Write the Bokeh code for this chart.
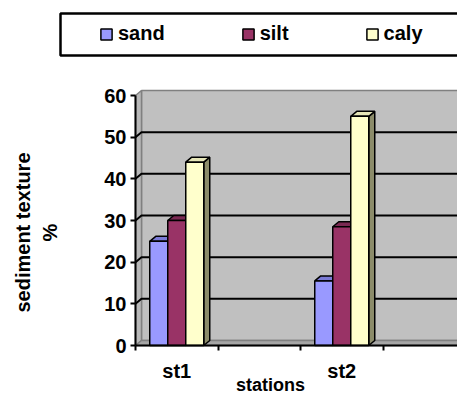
import math
from bokeh.plotting import figure
from bokeh.models import Range1d, FixedTicker, Label, Legend, LegendItem, BoxAnnotation
from bokeh.embed import file_html
from bokeh.resources import INLINE

# ---- data ----
axis_slots = ["st1", "", "st2", ""]          # category slots on the axis
categories = ["st1", "st2"]
series_names = ["sand", "silt", "caly"]
sand = [25, 15.5]
silt = [30, 28.5]
caly = [44, 55]
y_ticks = [0, 10, 20, 30, 40, 50, 60]

series_values = [sand, silt, caly]
front_colors = ["#9999FF", "#993366", "#FFFFCC"]
top_colors = ["#7B7BD6", "#7A2952", "#E6E6B8"]
side_colors = ["#6B6BB3", "#66223F", "#8C8C6A"]

# ---- geometry (style) ----
W, H = 457, 396
AX_X, AX_Y = 135, 345         # pixel position of the axes' origin on the canvas
PX_PER_SLOT = 82.5
PX_PER_UNIT = 250 / 60.0
DX = 6 / PX_PER_SLOT          # depth offset in x (slot units)
DY = 5 / PX_PER_UNIT          # depth offset in y (value units)
BAR_W = 18 / PX_PER_SLOT
FONT = "Liberation Sans"


def sx(px):
    return (px - AX_X) / PX_PER_SLOT


def sy(py):
    return (AX_Y - py) / PX_PER_UNIT


x_end = sx(W)
ymax = y_ticks[-1]

p = figure(width=W, height=H, x_range=Range1d(sx(0), x_end), y_range=Range1d(sy(H), sy(0)),
           output_backend="svg", toolbar_location=None,
           min_border_left=0, min_border_right=0, min_border_top=0, min_border_bottom=0)
p.outline_line_color = None
p.grid.visible = False
p.background_fill_color = "white"
p.border_fill_color = "white"

# ---- 3D walls ----
far = x_end + 1
p.quad(left=[DX], right=[far], bottom=[DY], top=[ymax + DY],
       fill_color="#C0C0C0", line_color="#808080", line_width=1.5)
p.patch([0, DX, DX, 0], [0, DY, ymax + DY, ymax],
        fill_color="#B8B8B8", line_color="#808080", line_width=1.5)
p.patch([0, far, far + DX, DX], [0, 0, DY, DY],
        fill_color="#A6A6A6", line_color="#808080", line_width=1.5)

grid_vals = [v for v in y_ticks if 0 < v < ymax]
p.multi_line([[0, DX, far] for v in grid_vals],
             [[v, v + DY, v + DY] for v in grid_vals],
             line_color="black", line_width=2)

# ---- 3D bars ----
cat_pos = [axis_slots.index(c) + 0.5 for c in categories]
legend_items = []
for si, (name, vals) in enumerate(zip(series_names, series_values)):
    lefts = [c - 1.5 * BAR_W + si * BAR_W for c in cat_pos]
    rights = [l + BAR_W for l in lefts]
    side_xs = [[r, r + DX, r + DX, r] for r in rights]
    side_ys = [[0, DY, v + DY, v] for v in vals]
    p.patches(side_xs, side_ys, fill_color=side_colors[si], line_color="black", line_width=1.5)
    top_xs = [[l, r, r + DX, l + DX] for l, r in zip(lefts, rights)]
    top_ys = [[v, v, v + DY, v + DY] for v in vals]
    p.patches(top_xs, top_ys, fill_color=top_colors[si], line_color="black", line_width=1.5)
    r_front = p.quad(left=lefts, right=rights, bottom=[0] * len(vals), top=vals,
                     fill_color=front_colors[si], line_color="black", line_width=1.5)
    legend_items.append(LegendItem(label=name, renderers=[r_front]))

# ---- axes (drawn at the data origin) ----
ya = p.yaxis[0]
ya.fixed_location = 0
ya.ticker = FixedTicker(ticks=y_ticks)
ya.bounds = (0, ymax)
ya.axis_line_color = "black"
ya.axis_line_width = 2
ya.major_tick_line_color = "black"
ya.major_tick_line_width = 2
ya.major_tick_out = 5
ya.major_tick_in = 0
ya.minor_tick_line_color = None
ya.major_label_text_font = FONT
ya.major_label_text_font_style = "bold"
ya.major_label_text_font_size = "20px"
ya.major_label_text_color = "black"
ya.major_label_standoff = 4

xa = p.xaxis[0]
xa.fixed_location = 0
label_pos = [i + 0.5 for i, s in enumerate(axis_slots) if s]
xa.ticker = FixedTicker(ticks=label_pos, minor_ticks=list(range(len(axis_slots))))
xa.major_label_overrides = {i + 0.5: s for i, s in enumerate(axis_slots) if s}
xa.bounds = (0, x_end)
xa.axis_line_color = "black"
xa.axis_line_width = 2
xa.major_tick_line_color = None
xa.major_tick_out = 0
xa.minor_tick_line_color = "black"
xa.minor_tick_line_width = 2
xa.minor_tick_out = 5
xa.minor_tick_in = 0
xa.major_label_text_font = FONT
xa.major_label_text_font_style = "bold"
xa.major_label_text_font_size = "20px"
xa.major_label_text_color = "black"
xa.major_label_standoff = 9

# ---- titles ----
p.add_layout(Label(x=sx(270), y=sy(384), text="stations",
                   text_font=FONT, text_font_style="bold", text_font_size="18px",
                   text_color="black", text_align="center", text_baseline="middle"))
p.add_layout(Label(x=sx(36), y=sy(232),
                   text="sediment texture\n%", angle=math.pi / 2,
                   text_font=FONT, text_font_style="bold", text_font_size="20px",
                   text_color="black", text_align="center", text_baseline="middle"))

# ---- legend ----
p.add_layout(BoxAnnotation(left=sx(60), right=far + 2, top=sy(13), bottom=sy(55),
                           fill_alpha=0, line_color="black", line_width=2.5, line_alpha=1))
legend = Legend(items=legend_items, orientation="horizontal", location=(99, H - 45),
                glyph_width=14, glyph_height=14, label_height=20, label_standoff=5,
                spacing=76, padding=5, border_line_color=None, background_fill_alpha=0,
                label_text_font=FONT, label_text_font_style="bold", label_text_font_size="20px",
                label_text_color="black")
p.add_layout(legend)

open("out.html", "w").write(file_html(p, INLINE))
